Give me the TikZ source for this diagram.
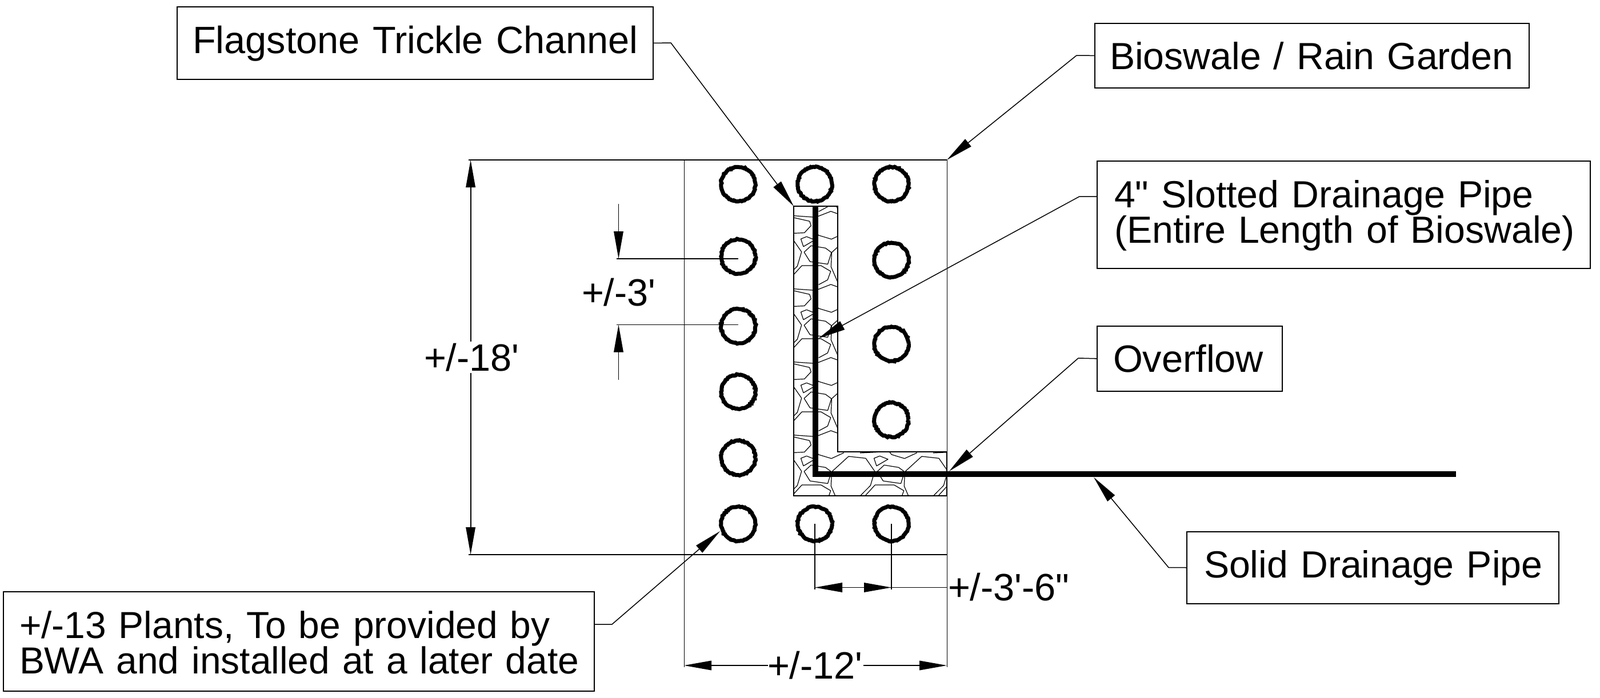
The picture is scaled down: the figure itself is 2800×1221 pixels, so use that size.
\documentclass[tikz,border=0pt]{standalone}
\usepackage{fontspec}
\usetikzlibrary{arrows.meta,decorations.pathmorphing}
\newfontfamily\cadfont[Ligatures=NoCommon,WordSpace=0.82]{Liberation Sans}
\newcommand{\cadsize}{\cadfont\fontsize{66.7pt}{60pt}\selectfont}
\newcommand{\cadsizeb}{\cadfont\fontsize{66.2pt}{60pt}\selectfont}
\newcommand{\cadsizec}{\cadfont\fontsize{65.9pt}{60pt}\selectfont}
\lineskiplimit=-1000pt
\tikzset{
  cadtext/.style={font=\cadsize},
  lbox/.style={cadtext,draw,line width=2pt,inner ysep=0pt,outer sep=0pt,align=left},
  dimtext/.style={cadtext,anchor=base west,inner sep=0pt,outer sep=0pt},
  plant/.style={circle,draw,line width=7pt,minimum size=60pt,inner sep=0pt,outer sep=0pt,
    decorate,decoration={random steps,segment length=2.5pt,amplitude=1pt}},
  thinline/.style={line width=1.0pt},
  extline/.style={line width=1.4pt},
  dimline/.style={line width=1.8pt},
  stoneline/.style={line width=1.2pt,line join=round},
  leader/.style={line width=1.5pt,-{Triangle[length=48pt,width=16.5pt]}},
  dimarrow/.style={line width=1.8pt,-{Triangle[length=48pt,width=16.5pt]}},
  pipe/.style={line width=10.5pt,line join=miter},
}
\newcommand{\stonetile}{%
  \draw[stoneline] (0,16.7)--(33,19)--(43.7,17.3)--(65,9)--(77,13.3);
  \draw[stoneline] (0,20)--(27.7,26.3)--(30.3,34)--(18.7,46.5)--(-12,48);
  \draw[stoneline] (12.5,57.3)--(22.5,53.3)--(37,59)--(17,70.7)--cycle;
  \draw[stoneline] (40,47)--(43.7,51)--(66,57.7)--(87.7,47.7);
  \draw[stoneline] (18.2,80.5)--(30.3,69.2)--(55.6,73.3)--(66,81)--(59.5,101.5)--(28.5,97)--cycle;
  \draw[stoneline] (66.5,81)--(96,54)--(126,57.3)--(141.7,80)--(134.3,105)--(116.7,122.7)--(112,128);
  \draw[stoneline] (66.5,81)--(65.3,106)--(77,133);
  \draw[stoneline] (-2.7,122.7)--(14.3,104)--(47.7,104)--(64.7,114)--(59.3,129)--(43.7,137.3);
}
\begin{document}
\begin{tikzpicture}[x=1pt,y=-1pt]
\useasboundingbox[fill=white] (0,0) rectangle (2800,1221);

% named points
\coordinate (swNW) at (1197,280);
\coordinate (swNE) at (1657,280);
\coordinate (swSW) at (1197,971);
\coordinate (swSE) at (1657,971);
\coordinate (chNW) at (1389,361);
\coordinate (pipeA) at (1427,361);
\coordinate (pipeB) at (1427,830);
\coordinate (pipeC) at (2548,830);
\coordinate (tipSlot) at (1432,592.6);
\coordinate (tipOver) at (1661,825);
\coordinate (tipSolid) at (1914,835.5);
\coordinate (tipPlant) at (1260,930);

% stones
\begin{scope}
  \clip (1389,361) -- (1466,361) -- (1466,791) -- (1657,791) -- (1657,868) -- (1389,868) -- cycle;
  \foreach \dx in {-128,0,128,256} {
    \foreach \dy in {-128,0,128,256,384} {
      \begin{scope}[shift={(1389+\dx,361+\dy)}]
        \stonetile
      \end{scope}
    }
  }
\end{scope}
\draw[line width=2pt,line join=miter] (chNW) -- (1466,361) -- (1466,791) -- (1657,791) -- (1657,868) -- (1389,868) -- cycle;

% bioswale outline and extension lines
\draw[extline] (820,280) -- (swNE);
\draw[extline] (820,971) -- (swSE);
\draw[thinline] (swNW) -- (1197,1168);
\draw[thinline] (swNE) -- (1657,1168);

% plants
\foreach \n/\x/\y in {a1/1292/322.5,a2/1292/449,a3/1292/571,a4/1292/686,a5/1292/801.5,a6/1292/917,
  b1/1426/322.5,b6/1426/917,
  c1/1560/322.5,c2/1560/455,c3/1560/602,c4/1560/735,c6/1560/917}
  \node[plant] (\n) at (\x,\y) {};

% pipe
\draw[pipe] (pipeA) -- (pipeB) -- (pipeC);

% label boxes
\node[lbox,text width=778.5pt,inner xsep=27.5pt,minimum height=127pt,text height=35pt,text depth=0pt] (flag) at (726.25,75.5) {\mbox{Flagstone Trickle Channel}};
\node[lbox,font=\cadsizeb,text width=708pt,inner xsep=26pt,minimum height=113.3pt,text height=48.7pt,text depth=0pt] (bio) at (2296,97.35) {\mbox{Bioswale / Rain Garden}};
\node[lbox,font=\cadsizeb,text width=803pt,inner xsep=30pt,minimum height=188pt,text height=0pt,text depth=26pt] (slot) at (2351.5,376) {\mbox{4" Slotted Drainage Pipe}\\\mbox{(Entire Length of Bioswale)}};
\node[lbox,text width=268pt,inner xsep=28pt,minimum height=114.3pt,text height=47.5pt,text depth=0pt] (over) at (2082,627.85) {\mbox{Overflow}};
\node[lbox,font=\cadsizeb,text width=590pt,inner xsep=30.5pt,minimum height=126.5pt,text height=35.3pt,text depth=0pt] (solid) at (2402,993.75) {\mbox{Solid Drainage Pipe}};
\node[lbox,font=\cadsizec,text width=978pt,inner xsep=28pt,minimum height=174pt,text height=0pt,text depth=12pt] (plants) at (523,1123) {\mbox{+/-13 Plants, To be provided by}\\\mbox{BWA and installed at a later date}};

% leaders
\draw[leader,line join=bevel] (flag.east) -- (1174,75) -- (chNW);
\draw[leader,line join=bevel] (bio.west) -- (1884,97) -- (swNE);
\draw[leader,line join=bevel] ([yshift=32pt]slot.west) -- (1889,344) -- (tipSlot);
\draw[leader,line join=bevel] (over.west) -- (1887,627) -- (tipOver);
\draw[leader,line join=bevel] (solid.west) -- (2045,993.5) -- (tipSolid);
\draw[leader,line join=bevel] ([yshift=30pt]plants.east) -- (1071,1093) -- (tipPlant);

% dimension +/-18'
\node[dimtext] (d18) at (742,649) {+/-18'};
\draw[dimarrow] (823.6,598) -- (823.6,280);
\draw[dimarrow] (823.6,653) -- (823.6,971);

% dimension +/-3'
\node[dimtext] (d3) at (1018,535) {+/-3'};
\draw[dimline] (1079,453) -- (1292,453);
\draw[dimline] (1079,568.5) -- (1292,568.5);
\draw[dimarrow] (1082.5,357) -- (1082.5,453);
\draw[dimarrow] (1082.5,665) -- (1082.5,568.5);

% dimension +/-3'-6"
\node[dimtext] (d36) at (1659,1051) {+/-3'-6"};
\draw[dimline] (b6.center) -- (1426,1032);
\draw[dimline] (c6.center) -- (1560,1032);
\draw[dimline] (1426,1028.5) -- (1657,1028.5);
\draw[dimarrow] (1494,1028.5) -- (1426,1028.5);
\draw[dimarrow] (1494,1028.5) -- (1560,1028.5);

% dimension +/-12'
\node[dimtext] (d12) at (1343,1188) {+/-12'};
\draw[dimarrow] (1344,1165) -- (1197,1165);
\draw[dimarrow] (1511,1165) -- (1657,1165);
\end{tikzpicture}
\end{document}
